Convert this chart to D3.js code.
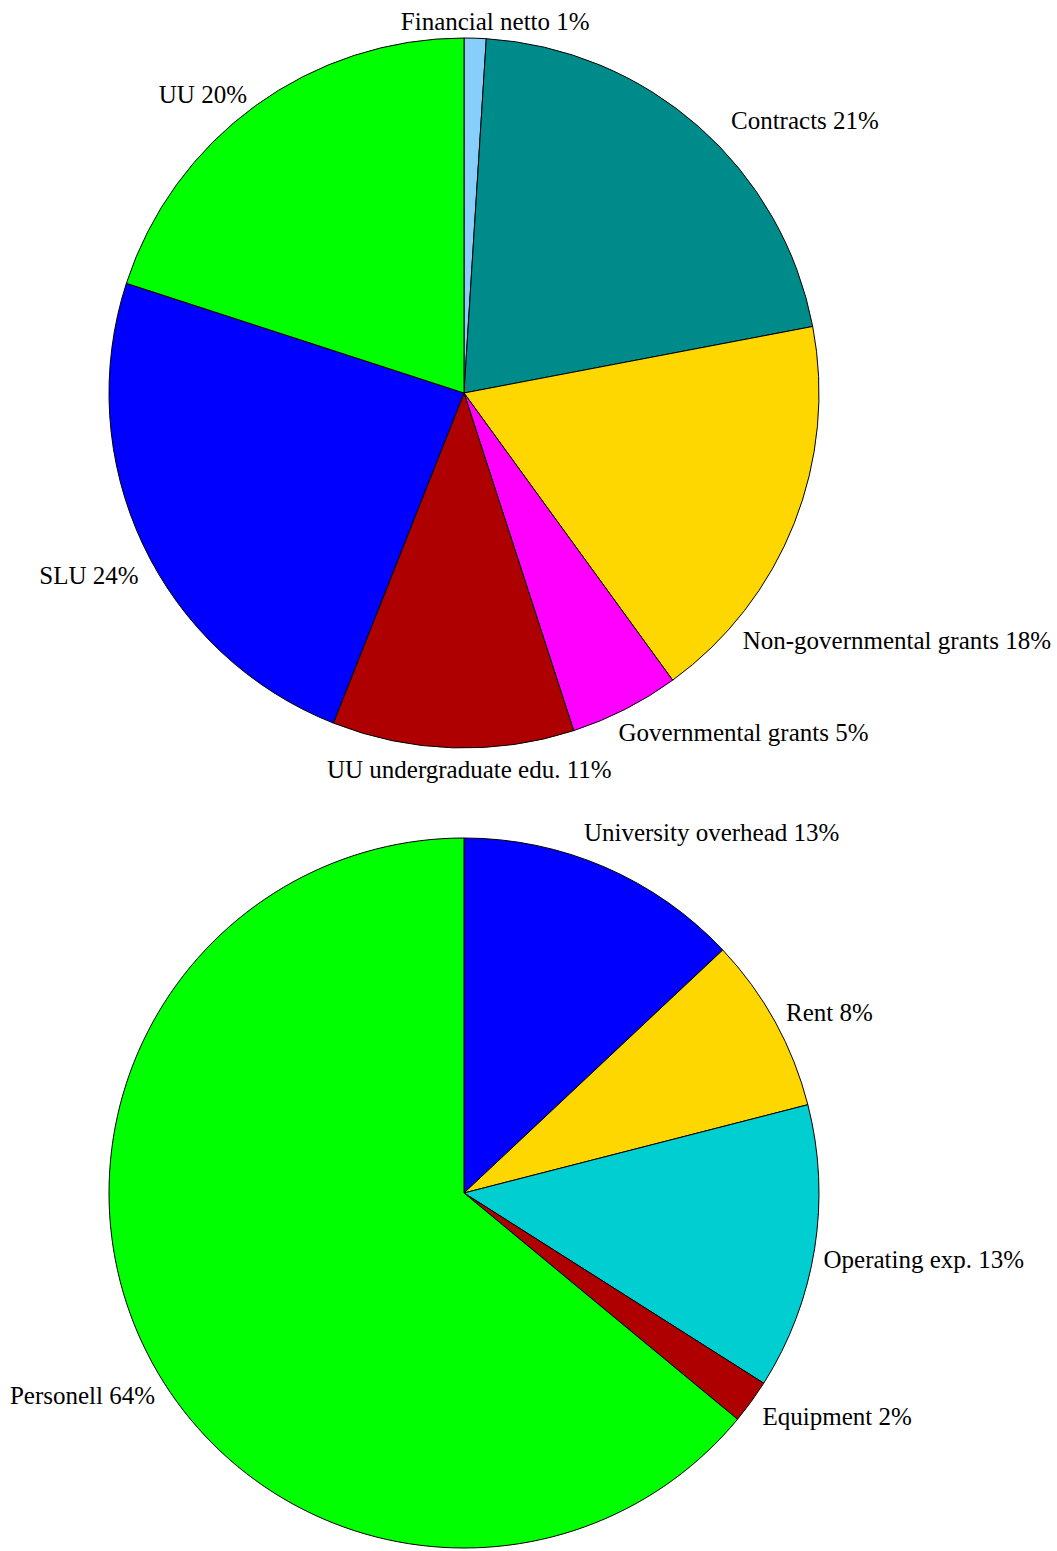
<!DOCTYPE html>
<html>
<head>
<meta charset="utf-8">
<script src="https://cdn.jsdelivr.net/npm/d3@7"></script>
<style>
  body { margin: 0; background: #fff; }
  text { font-family: "Liberation Serif", "Times New Roman", serif; font-size: 25px; fill: #000; }
</style>
</head>
<body>
<svg id="chart"></svg>
<script>
//income pie
var incomeNames = ["Financial netto", "Contracts", "Non-governmental grants", "Governmental grants",
                   "UU undergraduate edu.", "SLU", "UU"];
var incomeValues = [1, 21, 18, 5, 11, 24, 20];
var incomeColors = ["#87cefa", "#008b8b", "#ffd700", "#ff00ff", "#ae0000", "#0000ff", "#00ff00"];

//cost pie
var costNames = ["University overhead", "Rent", "Operating exp.", "Equipment", "Personell"];
var costValues = [13, 8, 13, 2, 64];
var costColors = ["#0000ff", "#ffd700", "#00ced1", "#ae0000", "#00ff00"];

//small angular nudges (degrees) and radius factors for the labels, as in the original layout
var incomeNudge = [3, 3, 20, 2.5, -2.6, -4, 0];
var incomeLabelR = [1.05, 1.075, 1.05, 1.05, 1.06, 1.05, 1.04];
var costNudge = [-5, -0.5, 1.5, 0.8, -8];
var costLabelR = [1.07, 1.04, 1.03, 1.05, 1.04];

var svgWidth = 1057, svgHeight = 1551, radius = 355;

var svg = d3.select("#chart")
    .attr("width", svgWidth)
    .attr("height", svgHeight);

var pie = d3.pie().sort(null).value(function(d) { return d; });
var arc = d3.arc().innerRadius(0).outerRadius(radius);

function drawPie(cx, cy, names, values, colors, nudge, labelR) {
    var g = svg.append("g").attr("transform", "translate(" + cx + "," + cy + ")");
    var slices = pie(values);

    g.selectAll("path")
        .data(slices)
        .enter()
        .append("path")
        .attr("d", arc)
        .attr("fill", function(d, i) { return colors[i]; })
        .attr("stroke", "#000")
        .attr("stroke-width", 1);

    //labels sit just outside the rim at the slice's middle angle
    g.selectAll("text")
        .data(slices)
        .enter()
        .append("text")
        .each(function(d, i) {
            var a = (d.startAngle + d.endAngle) / 2 + nudge[i] * Math.PI / 180;
            var r = radius * labelR[i];
            var x = r * Math.sin(a), y = -r * Math.cos(a);
            var s = Math.sin(a);
            var anchor = s > 0.15 ? "start" : (s < -0.15 ? "end" : "middle");
            d3.select(this)
                .attr("x", x)
                .attr("y", y)
                .attr("dy", "0.35em")
                .attr("text-anchor", anchor)
                .text(names[i] + " " + values[i] + "%");
        });
}

drawPie(464, 393, incomeNames, incomeValues, incomeColors, incomeNudge, incomeLabelR);
drawPie(464, 1193, costNames, costValues, costColors, costNudge, costLabelR);
</script>
</body>
</html>
